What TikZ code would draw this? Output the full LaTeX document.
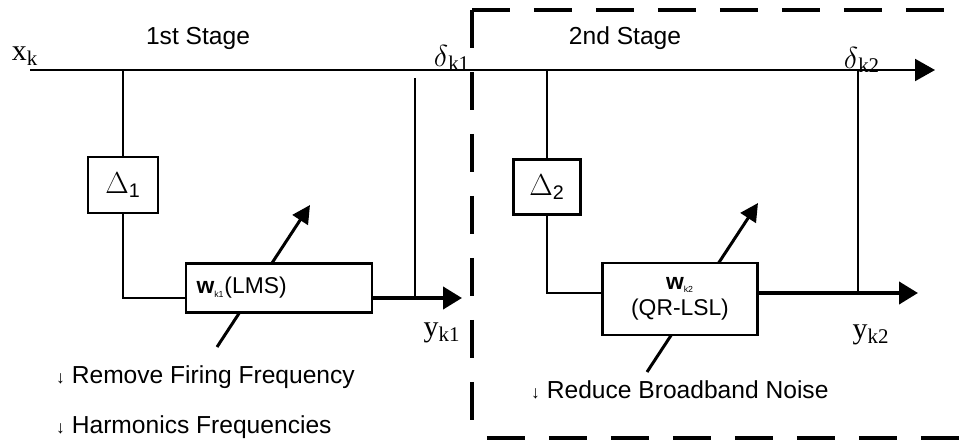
\documentclass[tikz,border=0pt]{standalone}
\usepackage{fontspec}
\setmainfont{Liberation Sans}
\newfontfamily\lblfont{Liberation Serif}
\usetikzlibrary{calc, positioning}
\usetikzlibrary{arrows.meta}

\tikzset{
  sig/.style={line width=1.2pt},
  outarr/.style={line width=2.3pt, -{Triangle[length=0.38cm, width=0.44cm]}},
  adapt/.style={line width=1.7pt, -{Triangle[length=0.36cm, width=0.36cm]}},
  dbox/.style={draw, line width=1.2pt, fill=white, minimum width=1.4cm, minimum height=1.12cm, font=\fontsize{16}{18}\selectfont},
  wbox/.style={draw, line width=1.2pt, fill=white, font=\fontsize{13}{15}\selectfont},
  stagebox/.style={line width=1.8pt, dash pattern=on 0.76cm off 0.48cm},
  lbl/.style={font=\lblfont\fontsize{17}{19}\selectfont},
  note/.style={anchor=west, font=\fontsize{14}{16}\selectfont}
}

\begin{document}
\begin{tikzpicture}[x=0.02cm, y=-0.02cm]
\useasboundingbox (0,0) rectangle (965,443);
\coordinate (xin) at (30,70);
\coordinate (xout) at (935,70);
\coordinate (fb1) at (415,78);
\coordinate (y1) at (462,298);
\coordinate (y2) at (918,293);
\coordinate (fb2) at (858,70);
% adaptive weight arrows
\coordinate (a1s) at (217,347);
\coordinate (a1e) at (310,205);
\coordinate (a2s) at (647,372);
\coordinate (a2e) at (758,203);
% stage 2 frame
\coordinate (ftl) at (472,10);
\coordinate (fbl) at (472,438);
\draw[stagebox] (ftl) -- (965,10);
\draw[stagebox] (ftl) -- (fbl);
\draw[stagebox] ([xshift=0.3cm]fbl) -- (965,438);
% main line
\draw[sig, -{Triangle[length=0.4cm, width=0.44cm]}] (xin) -- (xout);
\draw[adapt] (a1s) -- (a1e);
\draw[adapt] (a2s) -- (a2e);
% 1st stage
\node[dbox] (d1) at (123,185) {$\Delta$\textsubscript{1}};
\node[wbox, minimum width=3.72cm, minimum height=0.98cm, text width=3.3cm, align=left] (w1) at (279,288) {\textbf{w}\textsubscript{\tiny k1}(LMS)};
\draw[sig] (d1.north |- xin) -- (d1.north);
\draw[sig] (d1.south) -- (d1.south |- y1) -- (w1.west |- y1);
\draw[outarr] (w1.east |- y1) -- (y1);
\draw[sig] (fb1) -- (fb1 |- y1);
% 2nd stage
\node[dbox, minimum width=1.34cm, minimum height=1.1cm] (d2) at (547,187) {$\Delta$\textsubscript{2}};
\node[wbox, minimum width=3.1cm, minimum height=1.44cm, align=center] (w2) at (680,299) {\textbf{w}\textsubscript{\tiny k2}\\(QR-LSL)};
\draw[sig] (d2.north |- xin) -- (d2.north);
\draw[sig] (d2.south) -- (d2.south |- y2) -- (w2.west |- y2);
\draw[outarr] (w2.east |- y2) -- (y2);
\draw[sig] (fb2) -- (fb2 |- y2);
% labels
\node[lbl] (xk) at (25,56) {x\textsubscript{k}};
\node[lbl] (dk1) at (452,58) {$\delta$\textsubscript{k1}};
\node[lbl] (dk2) at (862,60) {$\delta$\textsubscript{k2}};
\node[lbl] (yk1) at (442,333) {y\textsubscript{k1}};
\node[lbl] (yk2) at (871,335) {y\textsubscript{k2}};
\node[font=\fontsize{14}{16}\selectfont] (s1) at (198,38) {1st Stage};
\node[font=\fontsize{14}{16}\selectfont] (s2) at (625,38) {2nd Stage};
\node[note] (n1) at (50,377) {{\normalsize ↓} Remove Firing Frequency};
\node[note] (n2) at (50,427) {{\normalsize ↓} Harmonics Frequencies};
\node[note] (n3) at (525,390) {{\normalsize ↓} Reduce Broadband Noise};
\end{tikzpicture}
\end{document}
